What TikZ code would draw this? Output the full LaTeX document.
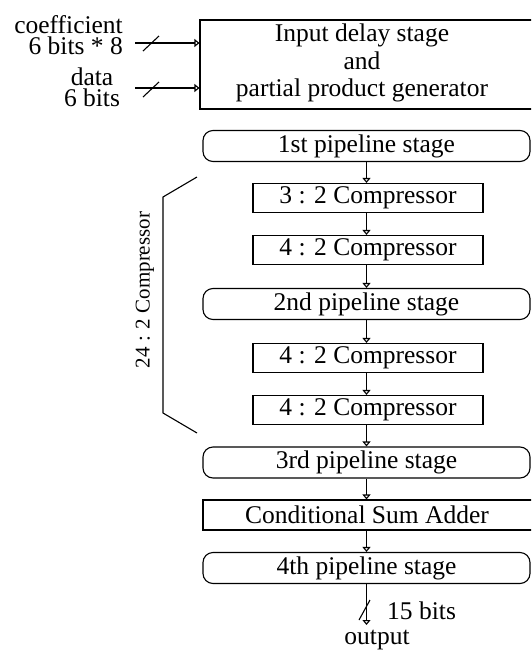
\documentclass[tikz,border=0pt]{standalone}
\usepackage{fontspec}
\setmainfont{Liberation Serif}
\usetikzlibrary{arrows.meta}
\begin{document}
\begin{tikzpicture}[x=1pt,y=-1pt,
  lbl/.style={font=\fontsize{25.5}{27.5}\selectfont},
  inlbl/.style={font=\fontsize{25.5}{21}\selectfont, inner sep=0pt},
  tight/.style={lbl, inner sep=0pt},
  ln/.style={line width=1.1pt},
  plainbox/.style={draw, ln, inner sep=0pt, lbl},
  stagebox/.style={draw, ln, rounded corners=10pt, minimum width=327pt, minimum height=31pt, inner sep=0pt, lbl},
  compbox/.style={draw, ln, minimum width=230pt, minimum height=29pt, inner sep=0pt, lbl},
  arr/.style={ln, -{Triangle[open,length=5pt,width=8pt]}},
]
\useasboundingbox (0,0) rectangle (531,651);
\clip (0,0) rectangle (531,651);

% top box
\node[plainbox, minimum width=334pt, minimum height=89pt] (gen) at (367,64.5) {};
\node[lbl, align=center] (gentext) at (362,63) {Input delay stage\\and\\partial product generator};

% input labels
\node[inlbl, align=right, anchor=north east] (coef) at (123,15) {coefficient\\6 bits * 8};
\node[inlbl, align=center, anchor=north] (data) at (92,68) {data\\6 bits};

\coordinate (cin) at (135,43);
\coordinate (din) at (135,88);
\draw[arr] (cin) -- (cin -| gen.west);
\draw[arr] (din) -- (din -| gen.west);
\draw[ln] (143,51) -- (159,36);
\draw[ln] (143,97) -- (159,82);

% stages
\node[stagebox] (p1) at (366.5,146) {1st pipeline stage};
\node[compbox] (c1) at (368,198) {3 : 2 Compressor};
\node[compbox] (c2) at (368,250) {4 : 2 Compressor};
\node[stagebox] (p2) at (366.5,304) {2nd pipeline stage};
\node[compbox] (c3) at (368,358) {4 : 2 Compressor};
\node[compbox] (c4) at (368,410) {4 : 2 Compressor};
\node[stagebox] (p3) at (366.5,462.5) {3rd pipeline stage};
\node[plainbox, minimum width=332pt, minimum height=30pt] (csa) at (369,515) {};
\node[lbl] (csatext) at (367,515) {Conditional Sum Adder};
\node[stagebox] (p4) at (366.5,568) {4th pipeline stage};

\draw[arr] (p1.south) -- (p1.south |- c1.north);
\draw[arr] (p1.south |- c1.south) -- (p1.south |- c2.north);
\draw[arr] (p1.south |- c2.south) -- (p2.north);
\draw[arr] (p2.south) -- (p2.south |- c3.north);
\draw[arr] (p2.south |- c3.south) -- (p2.south |- c4.north);
\draw[arr] (p2.south |- c4.south) -- (p3.north);
\draw[arr] (p3.south) -- (p3.south |- csa.north);
\draw[arr] (p3.south |- csa.south) -- (p4.north);

% output
\coordinate (out) at (366.5,625);
\draw[arr] (p4.south) -- (out);
\draw[ln] (359,620) -- (370,600);
\node[tight, anchor=west] (bits) at (387,611) {15 bits};
\node[tight] (outl) at (377,640) {output};

% bracket
\draw[ln] (197,177) -- (163,197) -- (163,413) -- (197,433);
\node[rotate=90, font=\fontsize{21}{21}\selectfont] (brl) at (145,290) {24 : 2 Compressor};
\end{tikzpicture}
\end{document}
